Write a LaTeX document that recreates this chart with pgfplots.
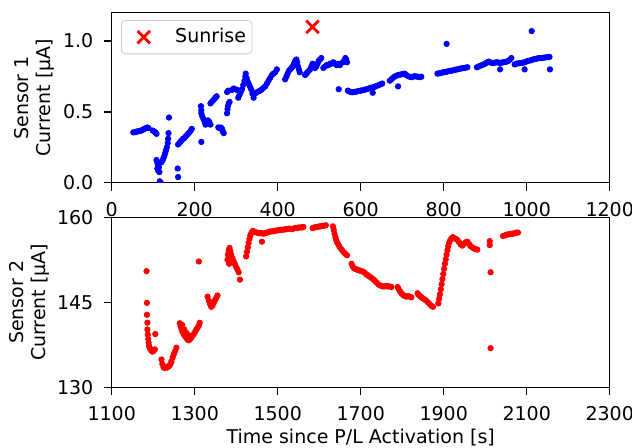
\documentclass[border=0pt]{standalone}
\usepackage{fontspec}
\setmainfont{DejaVu Sans}
\usepackage{pgfplots}
\pgfplotsset{compat=1.18}
\usetikzlibrary{calc}

\pgfplotstableread{
x y
52 0.355
56 0.357
59 0.360
62 0.362
65 0.364
68 0.366
71 0.368
74 0.372
77 0.378
80 0.382
83 0.386
86 0.390
89 0.385
99 0.368
102 0.362
105 0.356
108 0.345
108 0.160
110 0.140
112 0.125
114 0.110
110 0.100
112 0.085
115 0.075
116 0.010
118 0.000
120 0.145
123 0.160
125 0.175
127 0.190
129 0.210
131 0.230
133 0.250
135 0.280
136 0.310
137 0.350
138 0.460
159 0.100
160 0.040
160 0.270
163 0.280
166 0.290
169 0.300
172 0.310
175 0.315
178 0.325
181 0.335
184 0.345
187 0.355
190 0.365
193 0.380
216 0.288
215 0.540
216 0.510
216 0.490
218 0.470
221 0.450
224 0.430
226 0.410
229 0.420
232 0.440
235 0.430
238 0.410
238 0.560
241 0.570
244 0.580
247 0.590
250 0.600
253 0.610
257 0.390
260 0.385
263 0.390
266 0.380
268 0.360
270 0.350
278 0.490
279 0.520
280 0.540
282 0.560
284 0.570
278 0.640
281 0.650
290 0.655
294 0.665
298 0.660
302 0.655
305 0.600
308 0.620
311 0.640
314 0.660
317 0.690
320 0.720
322 0.750
323 0.770
325 0.740
327 0.720
330 0.700
333 0.680
336 0.660
339 0.630
342 0.600
346 0.630
350 0.640
354 0.645
358 0.650
362 0.660
366 0.670
370 0.680
374 0.700
378 0.720
382 0.740
386 0.760
390 0.770
394 0.780
398 0.800
418 0.730
421 0.750
424 0.770
427 0.790
430 0.800
433 0.810
436 0.820
439 0.840
442 0.860
445 0.870
447 0.850
449 0.820
451 0.800
453 0.780
466 0.760
469 0.770
472 0.780
475 0.790
478 0.800
481 0.820
484 0.840
487 0.830
490 0.810
493 0.820
496 0.840
499 0.860
502 0.870
505 0.880
510 0.810
514 0.820
518 0.830
522 0.830
526 0.840
530 0.840
534 0.850
538 0.840
542 0.830
546 0.840
550 0.830
557 0.850
560 0.860
563 0.880
565 0.870
567 0.850
547 0.660
569 0.650
572 0.645
576 0.640
580 0.638
584 0.640
588 0.642
592 0.645
596 0.648
600 0.650
604 0.652
608 0.655
612 0.658
616 0.662
620 0.665
624 0.670
628 0.672
632 0.675
636 0.680
640 0.685
644 0.690
648 0.695
652 0.700
629 0.635
670 0.720
674 0.730
678 0.740
682 0.750
686 0.755
690 0.760
694 0.762
698 0.765
702 0.768
706 0.770
710 0.760
714 0.752
718 0.748
722 0.745
726 0.748
730 0.752
734 0.750
738 0.748
742 0.745
746 0.748
690 0.680
785 0.770
789 0.772
793 0.775
797 0.778
801 0.780
805 0.782
809 0.785
813 0.788
817 0.790
821 0.792
825 0.795
829 0.798
833 0.800
837 0.803
841 0.806
845 0.808
849 0.810
853 0.812
857 0.815
807 0.980
880 0.815
884 0.820
888 0.825
892 0.830
896 0.835
900 0.840
904 0.848
908 0.855
912 0.850
916 0.845
920 0.845
924 0.848
928 0.850
932 0.848
936 0.845
940 0.848
944 0.850
948 0.852
952 0.855
956 0.860
960 0.870
963 0.880
936 0.800
971 0.835
975 0.840
979 0.842
983 0.845
987 0.845
991 0.848
995 0.850
999 0.855
1003 0.860
1007 0.862
1011 0.865
1015 0.870
1019 0.872
1023 0.875
1027 0.878
1031 0.880
1035 0.880
1039 0.882
1043 0.883
1047 0.885
1051 0.887
1055 0.888
995 0.800
1012 1.070
1056 0.800
}\sensorone

\pgfplotstableread{
x y
1184 150.5
1185 144.9
1185 142.8
1186 141.4
1186 140.2
1187 139.3
1188 138.5
1189 137.9
1190 137.3
1192 136.9
1195 136.5
1198 136.3
1201 136.4
1204 136.7
1205 139.4
1220 134.9
1222 134.1
1225 133.5
1228 133.4
1231 133.6
1234 133.5
1237 133.7
1240 133.9
1243 134.3
1244 134.6
1247 135.3
1250 135.9
1253 136.4
1256 137.0
1264 141.3
1266 140.8
1268 140.3
1270 139.9
1272 139.6
1274 139.3
1277 139.0
1280 138.7
1283 138.4
1286 138.3
1289 138.5
1292 138.8
1295 139.1
1298 139.4
1301 139.8
1304 140.2
1307 140.5
1310 140.9
1312 141.4
1270 141.0
1275 140.2
1280 139.6
1285 139.2
1310 152.2
1331 146.0
1334 145.3
1337 144.7
1340 144.2
1343 144.4
1346 144.9
1349 145.4
1352 145.8
1355 146.2
1379 152.5
1380 153.4
1382 154.2
1384 154.6
1386 154.0
1388 153.4
1391 152.8
1394 152.2
1397 151.7
1400 151.2
1403 150.8
1406 150.3
1409 149.0
1383 151.8
1385 152.9
1424 153.1
1426 153.9
1428 154.7
1430 155.5
1432 156.2
1434 156.8
1437 157.3
1440 157.6
1462 155.7
1442 157.5
1446 157.4
1450 157.3
1454 157.2
1458 157.2
1462 157.2
1466 157.1
1470 157.2
1474 157.3
1478 157.4
1482 157.5
1486 157.5
1490 157.6
1494 157.6
1498 157.7
1502 157.7
1506 157.8
1510 157.8
1514 157.8
1518 157.9
1522 157.9
1526 158.0
1530 158.0
1534 157.9
1538 158.0
1542 158.1
1546 158.1
1550 158.2
1554 158.2
1558 158.2
1562 158.3
1584 158.1
1588 158.2
1592 158.3
1596 158.3
1600 158.4
1604 158.4
1608 158.5
1612 158.5
1616 158.6
1633 158.4
1635 157.8
1637 157.1
1639 156.5
1641 156.0
1643 155.6
1646 155.2
1649 154.8
1652 154.5
1655 154.2
1658 153.9
1661 153.7
1664 153.5
1667 153.3
1666 160.3
1678 151.8
1681 151.3
1684 151.0
1687 150.9
1690 150.8
1694 150.7
1698 150.6
1702 150.5
1706 150.4
1710 150.2
1714 149.9
1718 149.7
1722 149.5
1726 149.3
1730 149.1
1734 148.8
1738 148.5
1742 148.2
1746 148.0
1750 147.9
1754 147.8
1758 147.8
1762 147.9
1766 147.8
1770 147.8
1774 147.7
1789 147.7
1792 147.3
1795 146.9
1798 146.6
1801 146.4
1804 146.2
1807 146.1
1810 146.0
1814 146.1
1818 146.0
1822 145.9
1820 160.3
1837 146.6
1840 146.3
1843 146.1
1846 145.9
1850 145.7
1854 145.5
1858 145.3
1862 145.0
1866 144.7
1870 144.4
1874 144.2
1887 144.8
1889 145.6
1891 146.4
1893 147.3
1895 148.2
1897 149.1
1899 150.0
1901 150.9
1903 151.8
1905 152.6
1907 153.4
1909 154.2
1911 154.9
1913 155.5
1916 156.0
1919 156.3
1922 156.5
1925 156.3
1929 156.2
1933 156.0
1937 155.6
1941 155.2
1945 155.0
1949 155.3
1953 155.6
1957 155.7
1961 155.3
1965 154.9
1969 154.7
1973 154.5
1977 154.4
1981 154.3
2011 155.8
2011 155.1
2013 150.3
2013 136.9
2043 156.7
2047 156.8
2051 156.9
2055 157.0
2059 157.0
2063 157.1
2067 157.1
2071 157.2
2075 157.3
2079 157.3
}\sensortwo

\begin{document}
\begin{tikzpicture}[font=\fontsize{9.5}{11}\selectfont]
\pgfplotsset{
  mpl/.style={
    scale only axis, width=249pt, height=85pt,
    axis line style={line width=0.7pt},
    every tick/.style={line width=0.7pt, black},
    tick align=outside, major tick length=4pt,
    tick pos=left,
    clip marker paths=true,
    /pgf/number format/assume math mode=true,
    /pgf/number format/1000 sep={},
    tick label style={font=\fontsize{9.5}{11}\selectfont},
    xticklabel style={inner sep=0pt, anchor=north, yshift=-5.5pt},
    yticklabel style={inner sep=0pt, anchor=east, xshift=-5pt},
    every axis x label/.style={at={(axis description cs:0.5,-0.293)}, anchor=center},
  },
}
\begin{axis}[mpl, name=top,
  xmin=0, xmax=1200, ymin=0, ymax=1.2,
  xtick={0,200,...,1200}, ytick={0,0.5,1},
  yticklabel style={/pgf/number format/.cd, fixed, fixed zerofill, precision=1},
  every axis y label/.style={at={(axis description cs:-0.155,0.5)}, rotate=90, anchor=center, align=center},
  ylabel={Sensor 1\\Current [µA]},
  legend style={at={(0.0187,0.957)}, anchor=north west, inner xsep=1pt, inner ysep=2pt,
    rounded corners=2pt, draw=black!20, fill=white, fill opacity=0.8, text opacity=1,
    cells={anchor=west}, nodes={inner sep=2pt}, font=\fontsize{9.5}{11}\selectfont},
  legend image code/.code={\path (0pt,0pt) (22.5pt,0pt); \draw[#1] plot coordinates {(9.5pt,0pt)};},
]
\addplot[forget plot, only marks, mark=*, mark size=1.35pt, color=blue, mark options={draw=none, fill=blue}] table[x=x, y=y] {\sensorone};
\addplot[only marks, mark=x, color=red, mark size=4.4pt, line width=1.4pt, mark options={line width=1.4pt}] coordinates {(484,1.10)};
\addlegendentry{Sunrise}
\end{axis}
\begin{axis}[mpl, name=bot, at={($(top.south west)+(0,-17.3pt)$)}, anchor=north west,
  xmin=1100, xmax=2300, ymin=130, ymax=160,
  xtick={1100,1300,...,2300}, ytick={130,145,160},
  every axis y label/.style={at={(axis description cs:-0.165,0.5)}, rotate=90, anchor=center, align=center},
  ylabel={Sensor 2\\Current [µA]},
  xlabel={Time since P/L Activation [s]},
]
\addplot[only marks, mark=*, mark size=1.35pt, color=red, mark options={draw=none, fill=red}] table[x=x, y=y] {\sensortwo};
\end{axis}
\pgfresetboundingbox
\path[use as bounding box] ($(top.north west)+(-55.85pt,6.35pt)$) rectangle ($(bot.south east)+(11.15pt,-30pt)$);
\end{tikzpicture}
\end{document}
